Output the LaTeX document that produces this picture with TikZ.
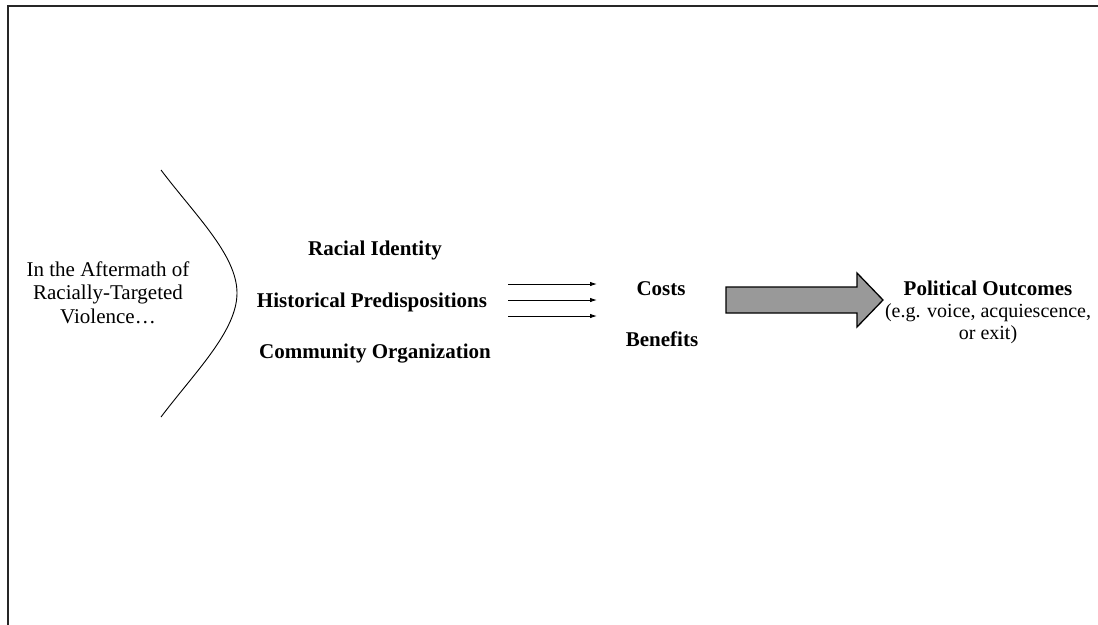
\documentclass[tikz,border=0pt]{standalone}
\usepackage{fontspec}
\setmainfont{Liberation Serif}
\usetikzlibrary{arrows.meta}
\definecolor{arrowgray}{RGB}{153,153,153}
\begin{document}
\begin{tikzpicture}[x=1pt,y=-1pt,
  txt/.style={font=\fontsize{21}{23.5}\selectfont, inner sep=0pt, align=center},
  bld/.style={font=\fontsize{21}{23.5}\selectfont\bfseries, inner sep=0pt},
  outc/.style={font=\fontsize{20}{22}\selectfont, inner sep=0pt, align=center},
  thinarrow/.style={line width=0.9pt, -{Latex[length=7pt,width=4.5pt]}},
  bigarrow/.style={fill=arrowgray, draw=black, line width=1.3pt, line join=miter},
]
\useasboundingbox (0,0) rectangle (1098,624);
\draw[line width=1.6pt, black!85] (8,626) -- (8,6) -- (1100,6);

\node[txt, anchor=north] (after) at (108,261.5) {In the Aftermath of\\Racially-Targeted\\Violence…};
\draw[line width=0.9pt] (161,170) .. controls (195,215) and (237,255) .. (237,293)
  .. controls (237,331) and (195,372) .. (161,417);

\node[bld, anchor=base] (racial) at (375,255) {Racial Identity};
\node[bld, anchor=base] (hist) at (372,307) {Historical Predispositions};
\node[bld, anchor=base] (comm) at (375,358) {Community Organization};

\coordinate (s1) at (508,284); \coordinate (e1) at (597,284);
\coordinate (s2) at (508,300); \coordinate (e2) at (597,300);
\coordinate (s3) at (508,316); \coordinate (e3) at (597,316);
\draw[thinarrow] (s1) -- (e1);
\draw[thinarrow] (s2) -- (e2);
\draw[thinarrow] (s3) -- (e3);

\node[bld, anchor=base] (costs) at (661,295) {Costs};
\node[bld, anchor=base] (benefits) at (662,346) {Benefits};

\draw[bigarrow] (726,287) -- (857,287) -- (857,273) -- (883,300) -- (857,327) -- (857,313) -- (726,313) -- cycle;

\node[outc, anchor=north] (outcomes) at (988,281) {{\fontsize{21}{23}\selectfont\bfseries Political Outcomes}\\(e.g. voice, acquiescence,\\or exit)};
\end{tikzpicture}
\end{document}
